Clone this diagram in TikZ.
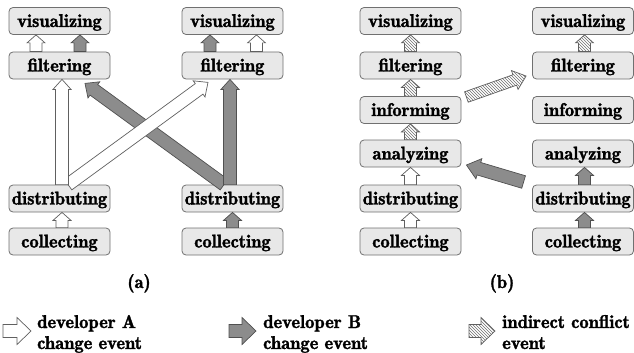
\documentclass[tikz,border=0pt]{standalone}
\usepackage{fontspec}
\newfontfamily\tnr{lmromandemi10-regular.otf}[FakeBold=1.6]
\usetikzlibrary{patterns,calc}
\definecolor{boxfill}{HTML}{E8E8E8}
\definecolor{boxline}{HTML}{707070}
\definecolor{arrgray}{HTML}{8C8C8C}
\definecolor{garrline}{HTML}{505050}
\definecolor{arrline}{HTML}{606060}
\definecolor{hatchc}{HTML}{707070}
\newcommand\blockarrow[6]{%
  \path #2 coordinate (bas) #3 coordinate (bae);
  \path let \p1=(bas), \p2=(bae), \n1={atan2(\y2-\y1,\x2-\x1)}, \n2={veclen(\x2-\x1,\y2-\y1)} in \pgfextra{\xdef\baang{\n1}\xdef\balen{\n2}};
  \begin{scope}[shift={(bas)},rotate=\baang]
    \path[#1] (0,-#4) -- ({\balen-#6},-#4) -- ({\balen-#6},-#5) -- (\balen,0) -- ({\balen-#6},#5) -- ({\balen-#6},#4) -- (0,#4) -- cycle;
  \end{scope}}
\begin{document}
\begin{tikzpicture}[x=1pt,y=-1pt,
  box/.style={draw=boxline, fill=boxfill, rounded corners=4pt, line width=0.8pt,
    minimum width=101pt, minimum height=27pt, inner sep=0pt,
    text height=12pt, text depth=0pt, font=\tnr\fontsize{18.5}{22}\selectfont},
  wa/.style={draw=arrline, fill=white, line width=0.7pt},
  ga/.style={draw=garrline, fill=arrgray, line width=0.7pt},
  ha/.style={draw=arrline, line width=0.7pt, preaction={fill=white}, pattern=north west lines, pattern color=hatchc},
  lbl/.style={font=\tnr\fontsize{18.5}{22}\selectfont, inner sep=0pt},
  leg/.style={font=\tnr\fontsize{18.5}{22}\selectfont, inner sep=0pt, anchor=base west}]
\useasboundingbox (0,0) rectangle (634,353);
% boxes (a)
\node[box] (v1) at (59.5,21) {visualizing};
\node[box] (f1) at (59.5,65.5) {filtering};
\node[box] (d1) at (59.5,198.5) {distributing};
\node[box] (c1) at (59.5,241.5) {collecting};
\node[box] (v2) at (232.5,21) {visualizing};
\node[box] (f2) at (232.5,65.5) {filtering};
\node[box] (d2) at (232.5,198.5) {distributing};
\node[box] (c2) at (232.5,241.5) {collecting};
% boxes (b)
\node[box] (v3) at (410.5,21) {visualizing};
\node[box] (f3) at (410.5,65.5) {filtering};
\node[box] (i3) at (410.5,110) {informing};
\node[box] (a3) at (410.5,153.5) {analyzing};
\node[box] (d3) at (410.5,198.5) {distributing};
\node[box] (c3) at (410.5,241.5) {collecting};
\node[box] (v4) at (583,21) {visualizing};
\node[box] (f4) at (583,65.5) {filtering};
\node[box] (i4) at (583,110) {informing};
\node[box] (a4) at (583,153.5) {analyzing};
\node[box] (d4) at (583,198.5) {distributing};
\node[box] (c4) at (583,241.5) {collecting};
% big arrows (a)
\blockarrow{ga}{([xshift=-8.5pt]d2.north)}{([xshift=25.5pt,yshift=-4pt]f1.south)}{6.5}{10}{11}
\blockarrow{wa}{([xshift=8.5pt]d1.north)}{([xshift=-24.5pt,yshift=-3pt]f2.south)}{6.5}{10}{11}
\blockarrow{wa}{([xshift=2.5pt]d1.north)}{([xshift=2.5pt]f1.south)}{6.5}{9}{10}
\blockarrow{ga}{([xshift=-2.5pt]d2.north)}{([xshift=-2.5pt]f2.south)}{6.5}{9}{10}
% small arrows (a)
\blockarrow{wa}{([xshift=-23.5pt]f1.north)}{([xshift=-23.5pt]v1.south)}{6}{9}{8}
\blockarrow{ga}{([xshift=20.5pt]f1.north)}{([xshift=20.5pt]v1.south)}{6}{9}{8}
\blockarrow{ga}{([xshift=-22.5pt]f2.north)}{([xshift=-22.5pt]v2.south)}{6}{9}{8}
\blockarrow{wa}{([xshift=24pt]f2.north)}{([xshift=24pt]v2.south)}{6}{9}{8}
\blockarrow{wa}{([xshift=2.5pt]c1.north)}{([xshift=2.5pt]d1.south)}{6}{9}{8}
\blockarrow{ga}{(c2.north)}{(d2.south)}{6}{9}{8}
% small arrows (b)
\blockarrow{ha}{(f3.north)}{(v3.south)}{6}{9}{8}
\blockarrow{ha}{(i3.north)}{(f3.south)}{6}{9}{8}
\blockarrow{ha}{(a3.north)}{(i3.south)}{6}{9}{8}
\blockarrow{wa}{(d3.north)}{(a3.south)}{6}{9}{8}
\blockarrow{wa}{(c3.north)}{(d3.south)}{6}{9}{8}
\blockarrow{ha}{([xshift=1.5pt]f4.north)}{([xshift=1.5pt]v4.south)}{6}{9}{8}
\blockarrow{ga}{([xshift=1.5pt]d4.north)}{([xshift=1.5pt]a4.south)}{6}{9}{8}
\blockarrow{ga}{([xshift=1.5pt]c4.north)}{([xshift=1.5pt]d4.south)}{6}{9}{8}
% big arrows (b)
\blockarrow{ha}{([xshift=5pt,yshift=13pt]i3.east)}{([xshift=-6pt,yshift=-10.5pt]f4.west)}{5.5}{10}{12}
\blockarrow{ga}{([xshift=-8.5pt,yshift=16.5pt]d4.west)}{([xshift=5pt,yshift=-11.5pt]a3.east)}{6.5}{10.5}{13}
% panel labels
\node[lbl, anchor=base] (la) at (139,288) {(a)};
\node[lbl, anchor=base] (lb) at (502,288) {(b)};
% legend
\coordinate (i1s) at (3,331); \coordinate (i1e) at (31,331);
\blockarrow{wa}{(i1s)}{(i1e)}{6.5}{13.5}{14}
\node[leg] (t1a) at (37,328) {developer A};
\node[leg] (t1b) at (37,349) {change event};
\coordinate (i2s) at (229,331); \coordinate (i2e) at (256,331);
\blockarrow{ga}{(i2s)}{(i2e)}{6.5}{13.5}{14}
\node[leg] (t2a) at (263,328) {developer B};
\node[leg] (t2b) at (263,349) {change event};
\coordinate (i3s) at (469,331); \coordinate (i3e) at (495,331);
\blockarrow{ha}{(i3s)}{(i3e)}{6.5}{13.5}{14}
\node[leg] (t3a) at (502,328) {indirect conflict};
\node[leg] (t3b) at (502,349) {event};
\end{tikzpicture}
\end{document}
